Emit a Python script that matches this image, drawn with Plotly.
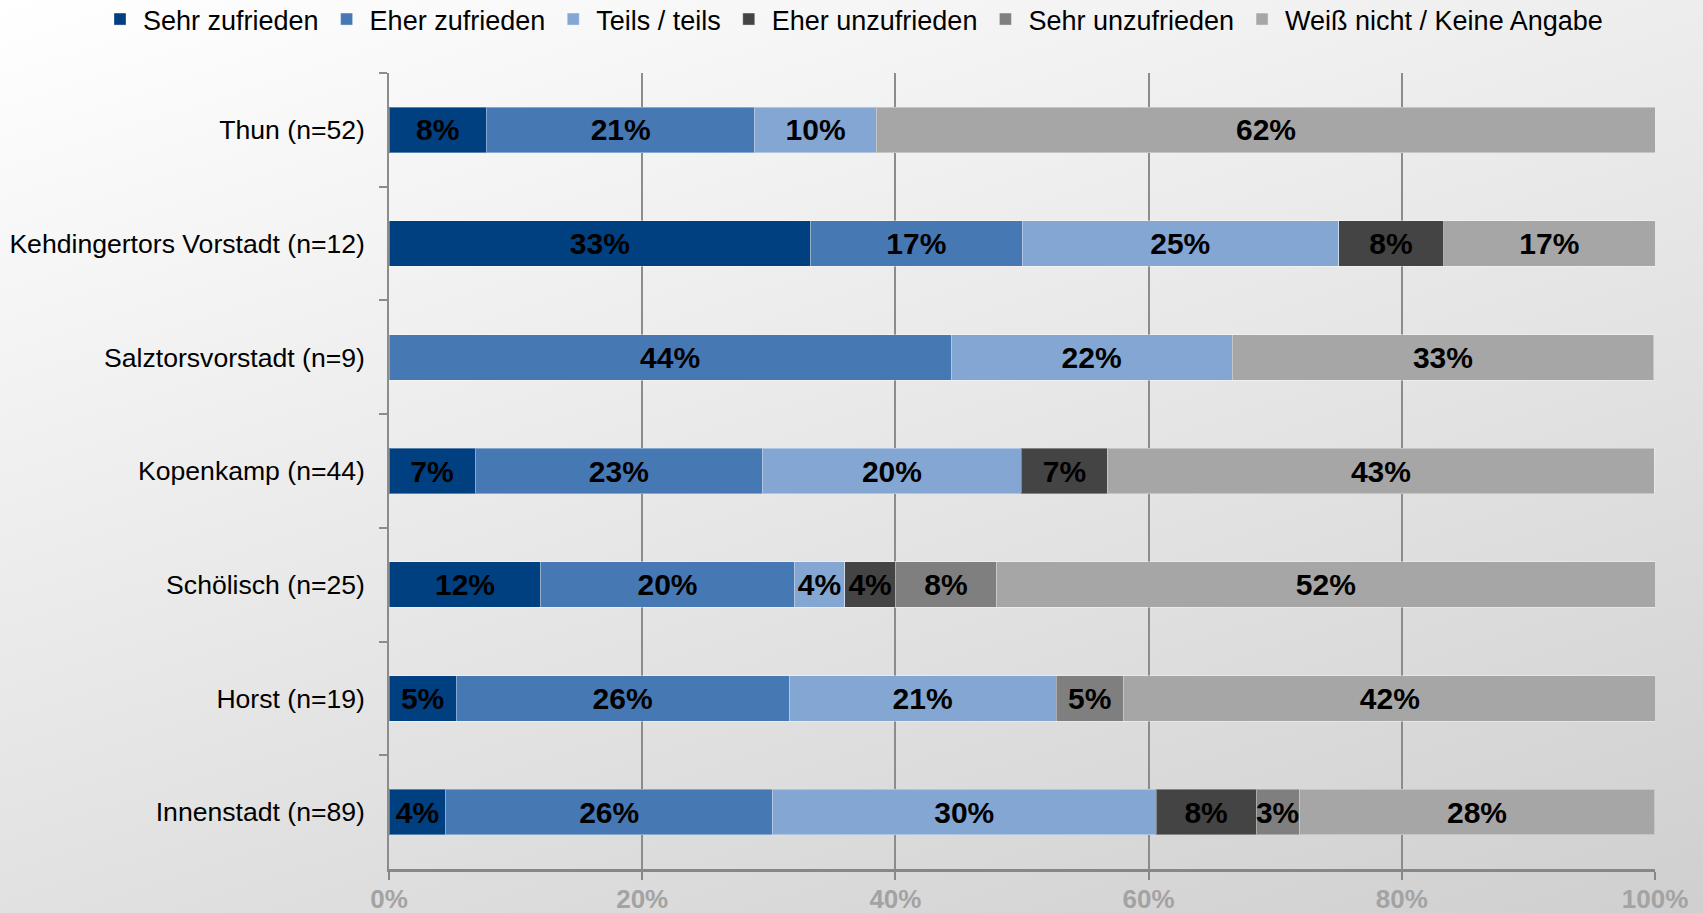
import base64
import plotly.graph_objects as go

categories = [
    "Thun (n=52)",
    "Kehdingertors Vorstadt (n=12)",
    "Salztorsvorstadt (n=9)",
    "Kopenkamp (n=44)",
    "Schölisch (n=25)",
    "Horst (n=19)",
    "Innenstadt (n=89)",
]

series_names = [
    "Sehr zufrieden",
    "Eher zufrieden",
    "Teils / teils",
    "Eher unzufrieden",
    "Sehr unzufrieden",
    "Weiß nicht / Keine Angabe",
]

sehr_zufrieden = [7.7, 33.3, None, 6.8, 12.0, 5.3, 4.49]
eher_zufrieden = [21.2, 16.7, 44.4, 22.7, 20.0, 26.3, 25.8]
teils_teils = [9.6, 25.0, 22.2, 20.45, 4.0, 21.1, 30.3]
eher_unzufrieden = [None, 8.3, None, 6.8, 4.0, None, 7.9]
sehr_unzufrieden = [None, None, None, None, 8.0, 5.3, 3.4]
weiss_nicht = [61.54, 16.7, 33.3, 43.2, 52.0, 42.1, 28.1]

series_values = [sehr_zufrieden, eher_zufrieden, teils_teils,
                 eher_unzufrieden, sehr_unzufrieden, weiss_nicht]
colors = ["#003F80", "#4678B4", "#84A6D2", "#444444", "#7F7F7F", "#A6A6A6"]

x_ticks = [0, 20, 40, 60, 80, 100]
x_ticklabels = ["0%", "20%", "40%", "60%", "80%", "100%"]

W, H = 1703, 913
ML, MR, MT, MB = 389, 48, 73, 44
PW, PH = W - ML - MR, H - MT - MB

fig = go.Figure()
for name, vals, col in zip(series_names, series_values, colors):
    fig.add_trace(go.Bar(
        name=name,
        y=categories,
        x=vals,
        orientation="h",
        marker=dict(color=col, line=dict(color="rgba(255,255,255,0.35)", width=1)),
        texttemplate="%{x:.0f}%",
        textposition="inside",
        insidetextanchor="middle",
        textangle=0,
        textfont=dict(family="Liberation Sans, Arial, sans-serif", size=30, color="black", weight="bold"),
        hoverinfo="skip",
    ))

svg = f'''<svg xmlns="http://www.w3.org/2000/svg" width="{W}" height="{H}" viewBox="0 0 {W} {H}" preserveAspectRatio="none">
<defs><linearGradient id="g" gradientUnits="userSpaceOnUse" x1="0" y1="0" x2="429" y2="1332">
<stop offset="0" stop-color="#ffffff"/><stop offset="1" stop-color="#cfcfcf"/></linearGradient></defs>
<rect x="0" y="0" width="{W}" height="{H}" fill="url(#g)"/></svg>'''
src = "data:image/svg+xml;base64," + base64.b64encode(svg.encode()).decode()

fig.add_layout_image(dict(
    source=src, xref="paper", yref="paper",
    x=-ML / PW, y=1 + MT / PH, sizex=W / PW, sizey=H / PH,
    xanchor="left", yanchor="top", sizing="stretch", layer="below",
))

fig.update_layout(
    width=W, height=H,
    barmode="stack",
    bargap=0.6,
    margin=dict(l=ML, r=MR, t=MT, b=MB, autoexpand=False),
    paper_bgcolor="white",
    plot_bgcolor="rgba(0,0,0,0)",
    font=dict(family="Liberation Sans, Arial, sans-serif", size=26, color="black"),
    uniformtext=dict(minsize=30, mode="show"),
    legend=dict(
        orientation="h", xref="paper", yref="paper",
        x=(97 - ML) / PW, xanchor="left", y=1 + (MT - 19.5) / PH, yanchor="middle",
        font=dict(size=27, color="black"), bgcolor="rgba(0,0,0,0)",
        traceorder="normal", itemwidth=36,
    ),
    xaxis=dict(
        range=[0, 100], tickvals=x_ticks, ticktext=x_ticklabels,
        showgrid=True, gridcolor="#8C8C8C", gridwidth=1.5,
        showline=True, linecolor="#878787", linewidth=3,
        ticks="outside", ticklen=8, tickcolor="#878787", tickwidth=1.5,
        tickfont=dict(size=26, color="#A3A3A3", weight="bold"),
        ticklabelstandoff=-3, zeroline=False, automargin=False,
    ),
    yaxis=dict(
        categoryorder="array", categoryarray=categories, autorange="reversed",
        showline=True, linecolor="#8C8C8C", linewidth=1.5,
        ticks="outside", ticklen=8, tickcolor="#8C8C8C", tickwidth=1.5,
        tickson="boundaries", showgrid=False,
        tickfont=dict(size=26.6, color="black"),
        ticklabelstandoff=17, automargin=False,
    ),
)

fig.write_html("out.html", config={"displayModeBar": False},
               post_script="document.body.style.margin='0';document.body.style.overflow='hidden';")
